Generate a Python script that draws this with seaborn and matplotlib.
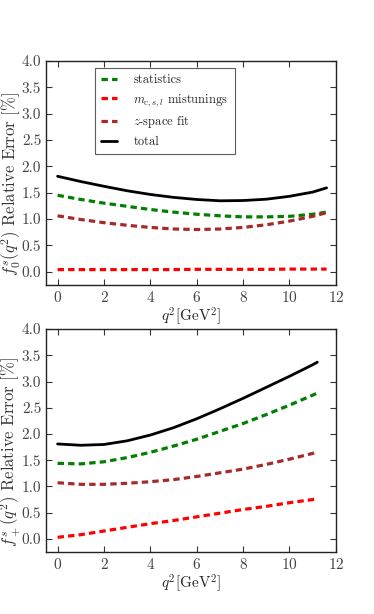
import numpy as np
import pandas as pd
import matplotlib
matplotlib.use("Agg")
import matplotlib.pyplot as plt
import seaborn as sns

# ==========================================
# DATA
# ==========================================

q2_f0 = [0, 1, 2, 3, 4, 5, 6, 7, 8, 9, 10, 11, 11.6]
f0_stat = [1.45, 1.37, 1.30, 1.24, 1.18, 1.13, 1.09, 1.06, 1.04, 1.04, 1.05, 1.09, 1.13]
f0_mist = [0.04, 0.04, 0.04, 0.04, 0.04, 0.04, 0.045, 0.045, 0.045, 0.045, 0.05, 0.05, 0.05]
f0_zfit = [1.06, 0.99, 0.93, 0.88, 0.84, 0.81, 0.80, 0.81, 0.84, 0.89, 0.96, 1.05, 1.12]
f0_total = [1.81, 1.71, 1.62, 1.535, 1.465, 1.41, 1.37, 1.345, 1.35, 1.375, 1.43, 1.51, 1.59]

q2_fp = [0, 1, 2, 3, 4, 5, 6, 7, 8, 9, 10, 11, 11.2]
fp_stat = [1.44, 1.43, 1.47, 1.55, 1.65, 1.77, 1.90, 2.05, 2.20, 2.37, 2.55, 2.74, 2.78]
fp_mist = [0.03, 0.08, 0.15, 0.22, 0.29, 0.35, 0.42, 0.49, 0.56, 0.62, 0.69, 0.75, 0.76]
fp_zfit = [1.07, 1.04, 1.04, 1.06, 1.09, 1.13, 1.19, 1.26, 1.33, 1.42, 1.52, 1.63, 1.67]
fp_total = [1.81, 1.785, 1.80, 1.87, 1.98, 2.12, 2.29, 2.48, 2.68, 2.89, 3.10, 3.32, 3.37]

labels = ["statistics", r"$m_{c,s,l}$ mistunings", r"$z$-space fit", "total"]
colors = ["#007f00", "#ff0000", "#a52a2a", "black"]

# ==========================================
# STYLE
# ==========================================

sns.set_style("ticks")
plt.rcParams["font.family"] = ["cmr10", "DejaVu Serif"]
plt.rcParams["mathtext.fontset"] = "cm"
plt.rcParams["axes.formatter.use_mathtext"] = True
plt.rcParams["axes.unicode_minus"] = False
plt.rcParams["lines.dashed_pattern"] = [2.0, 1.3]
plt.rcParams["font.size"] = 11

fig = plt.figure(figsize=(3.74, 6.14), dpi=100)
ax_top = fig.add_axes([0.123, 0.536, 0.775, 0.365])
ax_bot = fig.add_axes([0.123, 0.101, 0.775, 0.363])


def draw_panel(ax, q2, series, ylabel):
    for vals, lab, col in zip(series, labels, colors):
        df = pd.DataFrame({"q2": q2, "err": vals})
        ls = "-" if lab == "total" else "--"
        lw = 2.0 if lab == "total" else 2.3
        sns.lineplot(
            data=df, x="q2", y="err", ax=ax,
            color=col, linestyle=ls, linewidth=lw,
            label=lab, sort=False
        )
    ax.set_xlim(-0.5, 12)
    ax.set_ylim(-0.25, 4.0)
    ax.set_xticks(np.arange(0, 13, 2))
    ax.set_yticks(np.arange(0, 4.01, 0.5))
    ax.set_yticklabels([f"{v:.1f}" for v in np.arange(0, 4.01, 0.5)])
    ax.tick_params(direction="in", top=True, right=True, labelsize=11,
                   colors="#333333", length=4, width=0.8)
    ax.tick_params(labelcolor="#444444")
    for s in ax.spines.values():
        s.set_visible(True)
        s.set_linewidth(1.0)
        s.set_color("#222222")
    ax.set_xlabel(r"$q^2[\mathrm{GeV}^2]$", fontsize=11, labelpad=0)
    ax.set_ylabel(ylabel, fontsize=12, color="#333333")
    ax.yaxis.set_label_coords(-0.08, 0.45)


draw_panel(ax_top, q2_f0, [f0_stat, f0_mist, f0_zfit, f0_total],
           r"$f_0^s(q^2)$ Relative Error [%]")
draw_panel(ax_bot, q2_fp, [fp_stat, fp_mist, fp_zfit, fp_total],
           r"$f_+^s(q^2)$ Relative Error [%]")

leg = ax_top.legend(
    loc="upper left", bbox_to_anchor=(0.168, 0.968),
    fontsize=9, frameon=True, fancybox=False, borderaxespad=0,
    edgecolor="#333333", handlelength=1.3, borderpad=0.5,
    labelspacing=0.45, handletextpad=1.3
)
leg.get_frame().set_linewidth(0.8)
ax_bot.get_legend().remove()

fig.savefig("out.png", dpi=100)
